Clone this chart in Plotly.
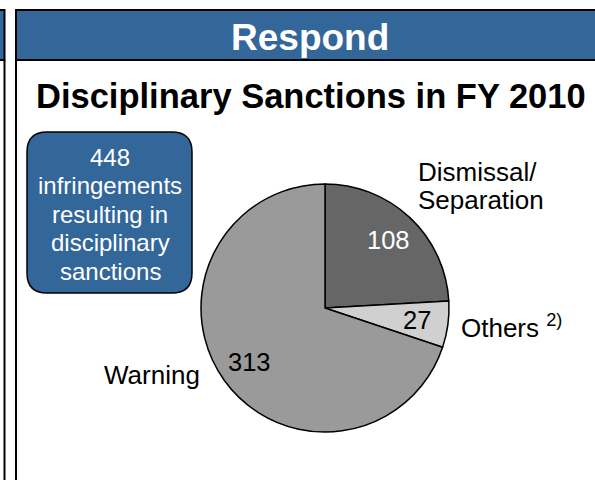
import math
import plotly.graph_objects as go

# ---- data ----
categories = ["Dismissal/Separation", "Others", "Warning"]
values = [108, 27, 313]
colors = ["#666666", "#d0d0d0", "#9a9a9a"]
value_text_colors = ["white", "black", "black"]
header_text = "Respond"
title_text = "Disciplinary Sanctions in FY 2010"
box_lines = ["448", "infringements", "resulting in", "disciplinary", "sanctions"]

W, H = 595, 480
FONT = "Liberation Sans, Arial, sans-serif"


def px(x):
    return x / W


def py(y):
    return 1 - y / H


# pie geometry (pixels)
CX, CY, R = 325, 308, 124

fig = go.Figure(
    go.Pie(
        labels=categories,
        values=values,
        sort=False,
        direction="clockwise",
        rotation=0,
        marker=dict(colors=colors, line=dict(color="black", width=1.5)),
        textinfo="none",
        hoverinfo="label+value",
        showlegend=False,
        domain=dict(x=[px(CX - R), px(CX + R)], y=[py(CY + R), py(CY - R)]),
    )
)

shapes = []
# left neighbour panel fragment
shapes.append(dict(type="rect", xref="paper", yref="paper",
                   x0=px(-10), x1=px(4.5), y0=py(60), y1=py(10),
                   fillcolor="#336699", line=dict(color="black", width=2), layer="below"))
shapes.append(dict(type="line", xref="paper", yref="paper",
                   x0=px(4.5), x1=px(4.5), y0=py(60), y1=py(490),
                   line=dict(color="black", width=2)))
# main panel header
shapes.append(dict(type="rect", xref="paper", yref="paper",
                   x0=px(16), x1=px(610), y0=py(60), y1=py(10),
                   fillcolor="#336699", line=dict(color="black", width=2), layer="below"))
shapes.append(dict(type="line", xref="paper", yref="paper",
                   x0=px(16), x1=px(16), y0=py(60), y1=py(490),
                   line=dict(color="black", width=2)))

# rounded box (path in pixel-derived paper coords)
bx0, bx1, by0, by1, rr = 27, 192, 132, 293, 20


def P(x, y):
    return f"{px(x):.5f},{py(y):.5f}"


path = (f"M {P(bx0 + rr, by0)} L {P(bx1 - rr, by0)} Q {P(bx1, by0)} {P(bx1, by0 + rr)} "
        f"L {P(bx1, by1 - rr)} Q {P(bx1, by1)} {P(bx1 - rr, by1)} "
        f"L {P(bx0 + rr, by1)} Q {P(bx0, by1)} {P(bx0, by1 - rr)} "
        f"L {P(bx0, by0 + rr)} Q {P(bx0, by0)} {P(bx0 + rr, by0)} Z")
shapes.append(dict(type="path", xref="paper", yref="paper", path=path,
                   fillcolor="#336699", line=dict(color="black", width=1.5)))

annotations = []
annotations.append(dict(text=f"<b>{header_text}</b>", x=px(310), y=py(37), xref="paper", yref="paper",
                        showarrow=False, font=dict(family=FONT, size=37, color="white"),
                        xanchor="center", yanchor="middle"))
annotations.append(dict(text=f"<b>{title_text}</b>", x=px(311), y=py(96), xref="paper", yref="paper",
                        showarrow=False, font=dict(family=FONT, size=34.5, color="black"),
                        xanchor="center", yanchor="middle"))

# box text
for i, line in enumerate(box_lines):
    annotations.append(dict(text=line, x=px(110), y=py(157 + i * 28.5), xref="paper", yref="paper",
                            showarrow=False, font=dict(family=FONT, size=24, color="white"),
                            xanchor="center", yanchor="middle"))

# value labels placed at mid-angle of each slice
total = sum(values)
cum = 0
for v, tc in zip(values, value_text_colors):
    mid = (cum + v / 2) / total * 2 * math.pi
    cum += v
    rf = 0.75
    lx = CX + rf * R * math.sin(mid)
    ly = CY - rf * R * math.cos(mid)
    annotations.append(dict(text=str(v), x=px(lx), y=py(ly), xref="paper", yref="paper",
                            showarrow=False, font=dict(family=FONT, size=25.5, color=tc),
                            xanchor="center", yanchor="middle"))

# category labels
annotations.append(dict(text="Dismissal/", x=px(416), y=py(172), xref="paper", yref="paper",
                        showarrow=False, font=dict(family=FONT, size=26, color="black"),
                        xanchor="left", yanchor="middle"))
annotations.append(dict(text="Separation", x=px(416), y=py(200), xref="paper", yref="paper",
                        showarrow=False, font=dict(family=FONT, size=26, color="black"),
                        xanchor="left", yanchor="middle"))
annotations.append(dict(text="Others <sup>2)</sup>", x=px(459), y=py(326), xref="paper", yref="paper",
                        showarrow=False, font=dict(family=FONT, size=26, color="black"),
                        xanchor="left", yanchor="middle"))
annotations.append(dict(text="Warning", x=px(202), y=py(375), xref="paper", yref="paper",
                        showarrow=False, font=dict(family=FONT, size=26, color="black"),
                        xanchor="right", yanchor="middle"))

fig.update_layout(
    width=W, height=H,
    margin=dict(l=0, r=0, t=0, b=0),
    paper_bgcolor="white",
    plot_bgcolor="white",
    shapes=shapes,
    annotations=annotations,
)

fig.write_html("out.html", config={"displayModeBar": False})
